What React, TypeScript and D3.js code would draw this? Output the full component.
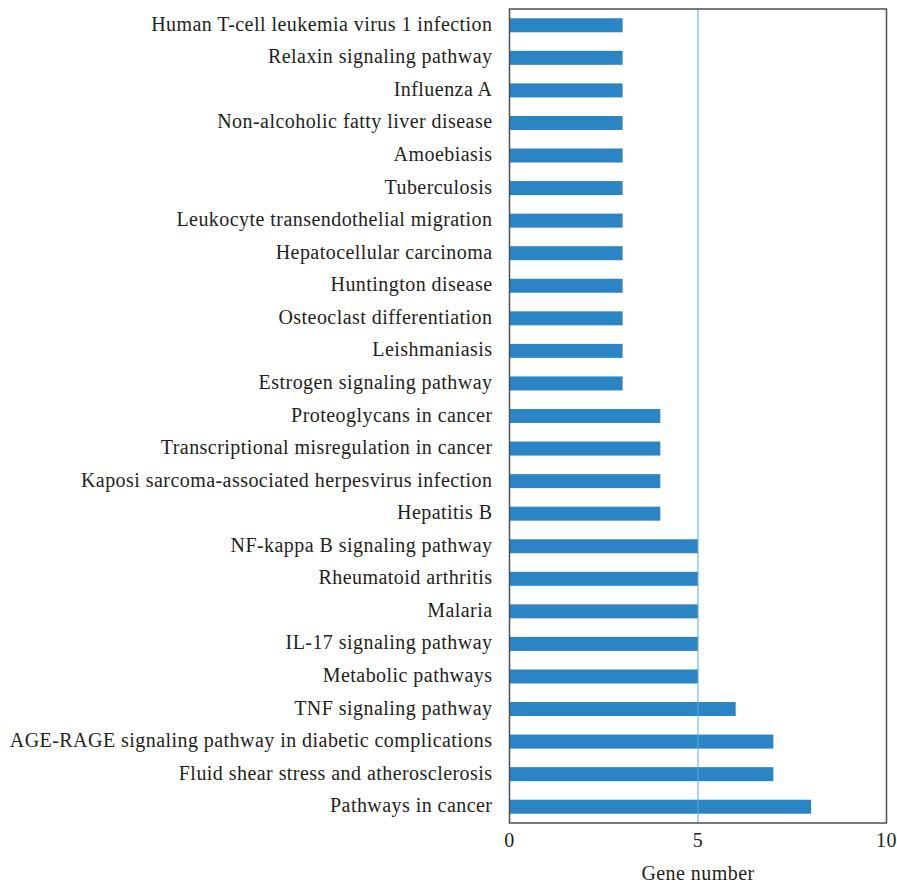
import React from "react";
import * as d3 from "d3";

const categories = [
  "Human T-cell leukemia virus 1 infection",
  "Relaxin signaling pathway",
  "Influenza A",
  "Non-alcoholic fatty liver disease",
  "Amoebiasis",
  "Tuberculosis",
  "Leukocyte transendothelial migration",
  "Hepatocellular carcinoma",
  "Huntington disease",
  "Osteoclast differentiation",
  "Leishmaniasis",
  "Estrogen signaling pathway",
  "Proteoglycans in cancer",
  "Transcriptional misregulation in cancer",
  "Kaposi sarcoma-associated herpesvirus infection",
  "Hepatitis B",
  "NF-kappa B signaling pathway",
  "Rheumatoid arthritis",
  "Malaria",
  "IL-17 signaling pathway",
  "Metabolic pathways",
  "TNF signaling pathway",
  "AGE-RAGE signaling pathway in diabetic complications",
  "Fluid shear stress and atherosclerosis",
  "Pathways in cancer",
];
const geneCounts = [3, 3, 3, 3, 3, 3, 3, 3, 3, 3, 3, 3, 4, 4, 4, 4, 5, 5, 5, 5, 5, 6, 7, 7, 8];
const xTicks = [0, 5, 10];
const refLine = 5;
const xLabel = "Gene number";

const W = 897;
const H = 883;
const left = 509.5;
const right = 886.5;
const top = 9;
const bottom = 823;
const font = "'Liberation Serif', 'DejaVu Serif', serif";
const textColor = "#231f20";
const fs = 20;
const ls = 0.45;

export default function App() {
  const x = d3.scaleLinear().domain([0, 10]).range([left, right]);
  const y = d3
    .scaleBand<string>()
    .domain(categories)
    .range([top, bottom])
    .paddingInner(0.57)
    .paddingOuter(0.285);
  return (
    <svg width={W} height={H} style={{ position: "absolute", left: 0, top: 0 }}>
      <rect x={0} y={0} width={W} height={H} fill="#fff" />
      {categories.map((c, i) => (
        <rect
          key={c}
          x={x(0)}
          y={y(c)!}
          width={x(geneCounts[i]) - x(0)}
          height={y.bandwidth()}
          fill="#2b84c4"
        />
      ))}
      <line x1={x(refLine)} x2={x(refLine)} y1={top} y2={bottom} stroke="#5aaee0" strokeWidth={1} />
      <rect x={left} y={top} width={right - left} height={bottom - top} fill="none" stroke="#4a5058" strokeWidth={1.5} />
      {categories.map((c) => (
        <text
          key={c}
          x={left - 17}
          y={y(c)! + y.bandwidth() / 2 - 1.5}
          textAnchor="end"
          dominantBaseline="central"
          fontFamily={font}
          fontSize={fs}
          letterSpacing={ls}
          fill={textColor}
        >
          {c}
        </text>
      ))}
      {xTicks.map((t) => (
        <text
          key={t}
          x={x(t)}
          y={847}
          textAnchor="middle"
          fontFamily={font}
          fontSize={fs}
          letterSpacing={ls}
          fill={textColor}
        >
          {t}
        </text>
      ))}
      <text x={x(5)} y={880} textAnchor="middle" fontFamily={font} fontSize={fs} letterSpacing={ls} fill={textColor}>
        {xLabel}
      </text>
    </svg>
  );
}
